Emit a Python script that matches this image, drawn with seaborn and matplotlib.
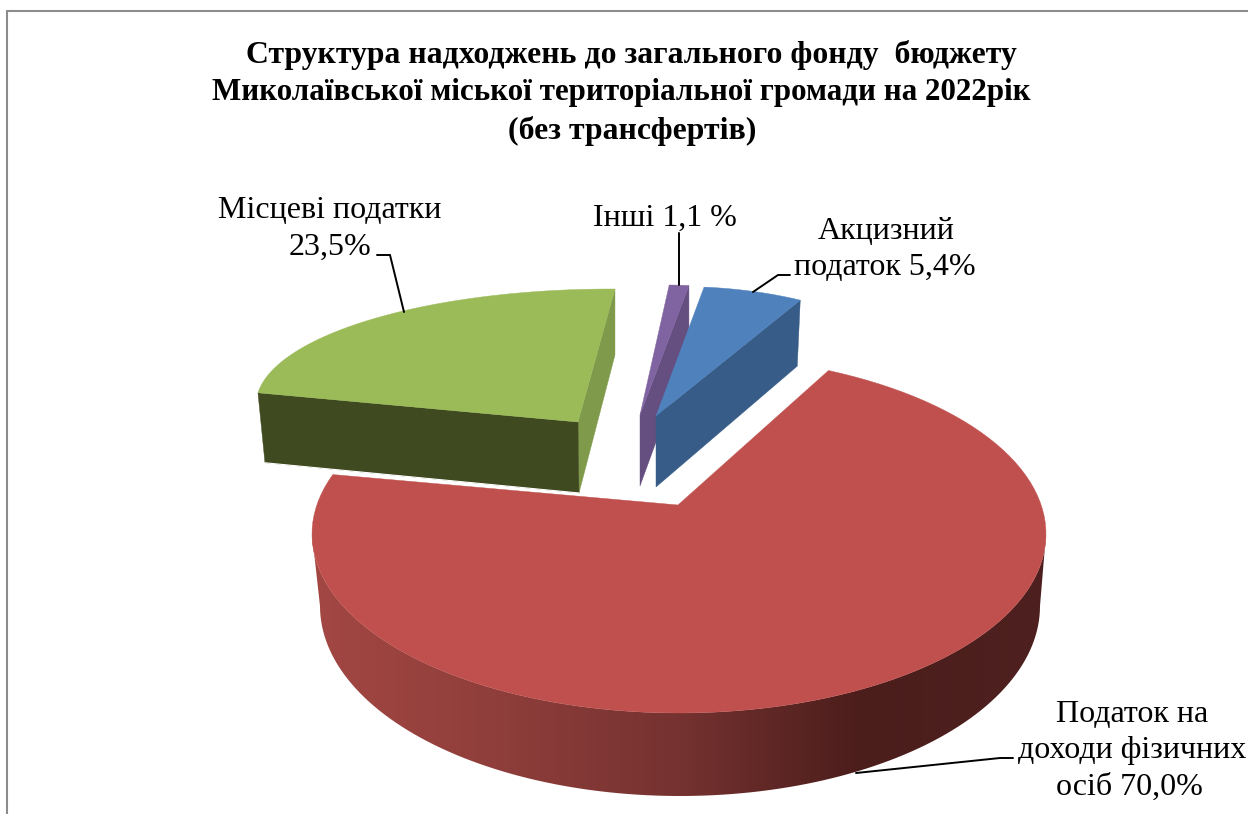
import numpy as np
import matplotlib
matplotlib.use("Agg")
import matplotlib.pyplot as plt
from matplotlib.patches import Polygon
import seaborn as sns

# Chart data
categories = ["Акцизний податок", "Податок на доходи фізичних осіб", "Місцеві податки", "Інші"]
shares = [5.4, 70.0, 23.5, 1.1]
label_lines = [
    ["Акцизний", "податок 5,4%"],
    ["Податок на", "доходи фізичних", "осіб 70,0%"],
    ["Місцеві податки", "23,5%"],
    ["Інші 1,1 %"],
]
title_lines = [
    "Структура надходжень до загального фонду  бюджету",
    "Миколаївської міської територіальної громади на 2022рік",
    "(без трансфертів)",
]

top_colors = ["#4F81BD", "#BF504D", "#9BBB59", "#8064A2"]
front_color = "#404A20"
side_colors = ["#375C87", None, "#7F9A4A", "#654E80"]
wall_colors = ["#A34743", "#8F3E3B", "#753230", "#4B1D1B", "#4E2120"]

# Every slice sits on its own ellipse because of the perspective (pixels)
# cx, cy, rx, ry, apex x, apex y
shapes = [
    (680.5, 442.6, 294, 156, 656, 416),
    (679, 534, 367, 179, 678, 505),
    (611, 405, 355, 116, 578, 422),
    (666, 435, 286, 150, 640, 415),
]
start_angle = 4.6  # first slice starts here, clockwise from top
red_stretch = 1.053  # front slice looks wider in perspective

sns.set_theme(style="white")
plt.rcParams["font.family"] = ["Liberation Serif", "DejaVu Serif"]

fig = plt.figure(figsize=(12.48, 8.14), dpi=100)
ax = fig.add_axes([0, 0, 1, 1])
ax.set_xlim(0, 1248)
ax.set_ylim(814, 0)
ax.axis("off")


def rim(shape, t1, t2, n=120):
    cx, cy, rx, ry = shape[:4]
    t = np.radians(np.linspace(t1, t2, n))
    return np.column_stack([cx + rx * np.sin(t), cy - ry * np.cos(t)])


def face(points, color, z):
    ax.add_patch(Polygon(points, closed=True, fc=color, ec=color, lw=0.3, zorder=z))


# angle range of each slice
angles = []
pos = start_angle
for s in shares:
    angles.append((pos, pos + s * 3.6))
    pos += s * 3.6

# red slice: outer wall with gradient, then the top
red = shapes[1]
a1, a2 = angles[1]
a2 = a1 + (a2 - a1) * red_stretch
floor = (680, 606, 360, 190)
wall = np.vstack([rim(red, 90, 270), rim(floor, 270, 90)])
wall_patch = Polygon(wall, closed=True, fc="none", ec="none")
ax.add_patch(wall_patch)
wall_cmap = sns.blend_palette(wall_colors, n_colors=256, as_cmap=True)
img = ax.imshow(np.linspace(0, 1, 256)[None, :], cmap=wall_cmap, aspect="auto",
                extent=(312, 1046, 800, 530), zorder=1)
img.set_clip_path(wall_patch)
ax.set_xlim(0, 1248)
ax.set_ylim(814, 0)
face(np.vstack([[red[4:6]], rim(red, a1, a2)]), top_colors[1], 2)

# green slice
green = shapes[2]
a1, a2 = angles[2]
g = rim(green, a1, a2)
apex = np.array(green[4:6])
face([g[-1], g[-1] + [0, 66], apex + [1, 71], apex], side_colors[2], 3)
face([g[0], g[0] + [7, 70], apex + [1, 71], apex], front_color, 4)
ax.plot([g[0][0] + 7, apex[0] + 1], [g[0][1] + 70, apex[1] + 71], color="white", lw=0.8, zorder=4)
face(np.vstack([[apex], g]), top_colors[2], 5)

# purple slice
purple = shapes[3]
a1, a2 = angles[3]
p = rim(purple, a1, a2)
apex = np.array(purple[4:6])
face([p[-1], p[-1] + [0, 66], apex + [0, 71], apex], side_colors[3], 6)
face(np.vstack([[apex], p]), top_colors[3], 7)

# blue slice
blue = shapes[0]
a1, a2 = angles[0]
b = rim(blue, a1, a2)
apex = np.array(blue[4:6])
face([b[-1], b[-1] + [-3, 66], apex + [0, 71], apex], side_colors[0], 8)
face(np.vstack([[apex], b]), top_colors[0], 9)

# leader lines
leaders = [
    [(753, 292), (778, 275), (790, 275)],
    [(856, 773), (1000, 758), (1013, 758)],
    [(377, 255), (390, 255), (404, 312)],
    [(679, 233), (679, 285)],
]
for pts in leaders:
    xs, ys = zip(*pts)
    ax.plot(xs, ys, color="black", lw=1.4, zorder=10, solid_joinstyle="miter")

# labels, y is the baseline
label_pos = [
    [(886, 239), (885, 275)],
    [(1132, 722), (1132, 758), (1129, 795)],
    [(330, 218), (330, 255)],
    [(664.5, 226)],
]
for lines, places in zip(label_lines, label_pos):
    for line, (x, y) in zip(lines, places):
        ax.text(x, y, line, fontsize=23, color="black", ha="center", va="baseline", zorder=11)

title_x = [631.5, 621, 632.5]
title_y = [63, 100, 139]
title_size = [22.9, 22.3, 22.9]
for line, x, y, size in zip(title_lines, title_x, title_y, title_size):
    ax.text(x, y, line, fontsize=size, fontweight="bold", color="black", ha="center", va="baseline", zorder=11)

# chart frame, cut by the page on the right and bottom
ax.plot([7, 7, 1248], [814, 11, 11], color="#8C8C8C", lw=1.5, zorder=12, solid_joinstyle="miter")

fig.savefig("out.png", dpi=100)
